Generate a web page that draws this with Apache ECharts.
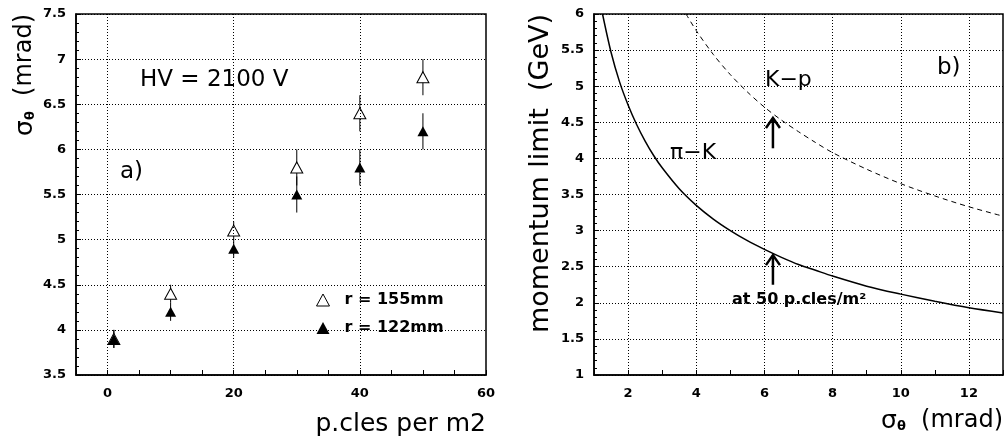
<!DOCTYPE html>
<html>
<head>
<meta charset="utf-8">
<title>RICH resolution and momentum limit</title>
<script src="https://cdn.jsdelivr.net/npm/echarts@6/dist/echarts.min.js"></script>
<style>
  html, body { margin: 0; padding: 0; background: #fff; }
  #chart { width: 1006px; height: 447px; }
</style>
</head>
<body>
<div id="chart"></div>
<script>
// ---- panel a) : single-photon resolution vs. background particle density ----
const pcles   = [1, 10, 20, 30, 40, 50];             // p.cles per m2
const sig155  = [3.9, 4.4, 5.1, 5.8, 6.4, 6.8];      // sigma_theta (mrad), r = 155mm
const err155  = [0.1, 0.1, 0.1, 0.2, 0.2, 0.2];
const sig122  = [3.9, 4.2, 4.9, 5.5, 5.8, 6.2];      // sigma_theta (mrad), r = 122mm
const err122  = [0.1, 0.1, 0.1, 0.2, 0.2, 0.2];
const leftXTicks = [0, 20, 40, 60];
const leftXGrid  = [0, 20, 40];

// ---- panel b) : momentum limit vs. sigma_theta ----
const sigmaPiK = [1.25, 1.5, 1.75, 2, 2.25, 2.5, 2.75, 3, 3.5, 4, 4.5, 5, 5.5, 6, 6.5, 7, 7.5, 8, 9, 10, 11, 12, 13];
const pPiK     = [6.0, 5.47, 5.06, 4.74, 4.47, 4.24, 4.04, 3.87, 3.58, 3.35, 3.16, 3.0, 2.86, 2.74, 2.63, 2.53, 2.45, 2.37, 2.23, 2.12, 2.02, 1.93, 1.86];
const sigmaKp  = [3.7, 4, 4.5, 5, 5.5, 6, 6.5, 7, 7.5, 8, 9, 10, 11, 12, 13];
const pKp      = [6.0, 5.77, 5.44, 5.16, 4.92, 4.71, 4.53, 4.37, 4.22, 4.08, 3.85, 3.65, 3.48, 3.33, 3.2];
const rightXTicks = [2, 4, 6, 8, 10, 12];
const rightXGrid  = [2, 4, 6, 8, 10, 12];
// arrows marking the limits at 50 p.cles/m2: [sigma, from p, to p]
const limitArrows = [[6.25, 4.14, 4.56], [6.25, 2.25, 2.66]];

const FONT = "'DejaVu Sans', 'Liberation Sans', sans-serif";
const dotted = { color: '#000', width: 1, type: [1, 2] };

function xyPairs(xs, ys) { return xs.map((x, i) => [x, ys[i]]); }
function errRows(xs, ys, es) { return xs.map((x, i) => [x, ys[i] - es[i], ys[i] + es[i]]); }

function renderErrBar(params, api) {
  const a = api.coord([api.value(0), api.value(1)]);
  const b = api.coord([api.value(0), api.value(2)]);
  return { type: 'line', shape: { x1: a[0], y1: a[1], x2: b[0], y2: b[1] },
           style: { stroke: '#000', lineWidth: 1 } };
}

function renderArrow(params, api) {
  const a = api.coord([api.value(0), api.value(1)]);
  const b = api.coord([api.value(0), api.value(2)]);
  return {
    type: 'group',
    children: [
      { type: 'line', shape: { x1: a[0], y1: a[1], x2: b[0], y2: b[1] },
        style: { stroke: '#000', lineWidth: 2.5 } },
      { type: 'polyline', shape: { points: [[b[0] - 7, b[1] + 10], [b[0], b[1]], [b[0] + 7, b[1] + 10]] },
        style: { stroke: '#000', lineWidth: 2.5, fill: null, lineJoin: 'miter' } }
    ]
  };
}

const axisLabelStyle = { color: '#000', fontFamily: FONT, fontWeight: 'bold', fontSize: 13 };
const frameLine = { show: true, onZero: false, lineStyle: { color: '#000', width: 1.5 } };

function xAxisCfg(grid, min, max, step, labels) {
  return {
    gridIndex: grid, type: 'value', min: min, max: max, interval: step,
    axisLine: frameLine,
    axisTick: { show: true, inside: true, length: 5, lineStyle: { color: '#000', width: 1 } },
    axisLabel: Object.assign({ margin: 12, formatter: v => labels.includes(v) ? String(v) : '' }, axisLabelStyle),
    splitLine: { show: false }
  };
}
function yAxisCfg(grid, min, max) {
  return {
    gridIndex: grid, type: 'value', min: min, max: max, interval: 0.5,
    axisLine: frameLine,
    axisTick: { show: true, inside: true, length: 5, lineStyle: { color: '#000', width: 1 } },
    minorTick: { show: true, splitNumber: 5, length: 3, lineStyle: { color: '#000', width: 1 } },
    axisLabel: Object.assign({ margin: 10 }, axisLabelStyle),
    splitLine: { show: true, lineStyle: dotted }
  };
}

const sigmaRich = {
  s: { fontFamily: FONT, fontSize: 25, color: '#000' },
  t: { fontFamily: FONT, fontSize: 13, fontWeight: 'bold', color: '#000', verticalAlign: 'bottom' },
  n: { fontFamily: FONT, fontSize: 24, color: '#000' }
};

function label(text, x, y, size, extra) {
  return {
    type: 'text', x: x, y: y, silent: true,
    style: Object.assign({ text: text, fontFamily: FONT, fontSize: size, fill: '#000',
                           align: 'left', verticalAlign: 'middle',
                           textAlign: 'left', textVerticalAlign: 'middle' }, extra || {})
  };
}

const option = {
  animation: false,
  backgroundColor: '#fff',
  grid: [
    { left: 76, top: 14, width: 410, height: 361, show: true, borderColor: '#000', borderWidth: 1.5 },
    { left: 594, top: 14, width: 410, height: 361, show: true, borderColor: '#000', borderWidth: 1.5 }
  ],
  xAxis: [
    xAxisCfg(0, -5, 60, 5, leftXTicks),
    xAxisCfg(1, 1, 13, 1, rightXTicks)
  ],
  yAxis: [
    yAxisCfg(0, 3.5, 7.5),
    yAxisCfg(1, 1, 6)
  ],
  legend: {
    data: ['r = 155mm', 'r = 122mm'],
    orient: 'vertical', left: 311, top: 287,
    itemWidth: 13, itemHeight: 12, itemGap: 12,
    selectedMode: false,
    itemStyle: { borderWidth: 1 },
    textStyle: { fontFamily: FONT, fontWeight: 'bold', fontSize: 16, color: '#000', padding: [0, 0, 0, 10] }
  },
  series: [
    // error bars, panel a)
    { type: 'custom', name: 'err155', xAxisIndex: 0, yAxisIndex: 0, z: 1,
      renderItem: renderErrBar, encode: { x: 0, y: [1, 2] },
      data: errRows(pcles, sig155, err155), silent: true },
    { type: 'custom', name: 'err122', xAxisIndex: 0, yAxisIndex: 0, z: 1,
      renderItem: renderErrBar, encode: { x: 0, y: [1, 2] },
      data: errRows(pcles, sig122, err122), silent: true },
    { type: 'scatter', name: 'r = 155mm', xAxisIndex: 0, yAxisIndex: 0, z: 3,
      symbol: 'triangle', symbolSize: [12, 11],
      itemStyle: { color: '#fff', borderColor: '#000', borderWidth: 1, opacity: 1 },
      data: xyPairs(pcles, sig155),
      markLine: {
        silent: true, symbol: 'none', label: { show: false },
        lineStyle: dotted, emphasis: { disabled: true },
        data: leftXGrid.map(v => ({ xAxis: v }))
      } },
    { type: 'scatter', name: 'r = 122mm', xAxisIndex: 0, yAxisIndex: 0, z: 4,
      symbol: 'triangle', symbolSize: [11, 10],
      itemStyle: { color: '#000', opacity: 1 },
      data: xyPairs(pcles, sig122) },
    // panel b)
    { type: 'line', name: 'pi-K', xAxisIndex: 1, yAxisIndex: 1, showSymbol: false,
      smooth: 0.3,
      lineStyle: { color: '#000', width: 1.5 },
      data: xyPairs(sigmaPiK, pPiK),
      markLine: {
        silent: true, symbol: 'none', label: { show: false },
        lineStyle: dotted, emphasis: { disabled: true },
        data: rightXGrid.map(v => ({ xAxis: v }))
      } },
    { type: 'line', name: 'K-p', xAxisIndex: 1, yAxisIndex: 1, showSymbol: false,
      smooth: 0.3,
      lineStyle: { color: '#000', width: 1, type: [5, 4] },
      data: xyPairs(sigmaKp, pKp) },
    { type: 'custom', name: 'limits', xAxisIndex: 1, yAxisIndex: 1, z: 5,
      renderItem: renderArrow, encode: { x: 0, y: [1, 2] },
      data: limitArrows, silent: true }
  ],
  graphic: [
    // axis titles
    { type: 'text', x: 25, y: 14, rotation: Math.PI / 2, silent: true,
      style: { text: '{s|σ}{t|θ}{n|  (mrad)}', rich: sigmaRich, fill: '#000',
               align: 'right', verticalAlign: 'middle', textAlign: 'right', textVerticalAlign: 'middle' } },
    label('p.cles per m2', 486, 424, 25, { align: 'right', textAlign: 'right' }),
    { type: 'text', x: 541, y: 14, rotation: Math.PI / 2, silent: true,
      style: { text: 'momentum limit  (GeV)', fontFamily: FONT, fontSize: 27, fill: '#000',
               align: 'right', verticalAlign: 'middle', textAlign: 'right', textVerticalAlign: 'middle' } },
    { type: 'text', x: 1003, y: 421, silent: true,
      style: { text: '{s|σ}{t|θ}{n|  (mrad)}', rich: sigmaRich, fill: '#000',
               align: 'right', verticalAlign: 'middle', textAlign: 'right', textVerticalAlign: 'middle' } },
    // panel annotations
    label('HV = 2100 V', 140, 80, 23),
    label('a)', 120, 172, 23),
    label('b)', 937, 68, 23),
    label('K\u2212p', 765, 80, 22),
    label('\u03c0\u2212K', 670, 153, 22),
    label('at 50 p.cles/m\u00b2', 732, 300, 16, { fontWeight: 'bold' })
  ]
};

const chart = echarts.init(document.getElementById('chart'), null, { renderer: 'canvas' });
chart.setOption(option);
</script>
</body>
</html>
